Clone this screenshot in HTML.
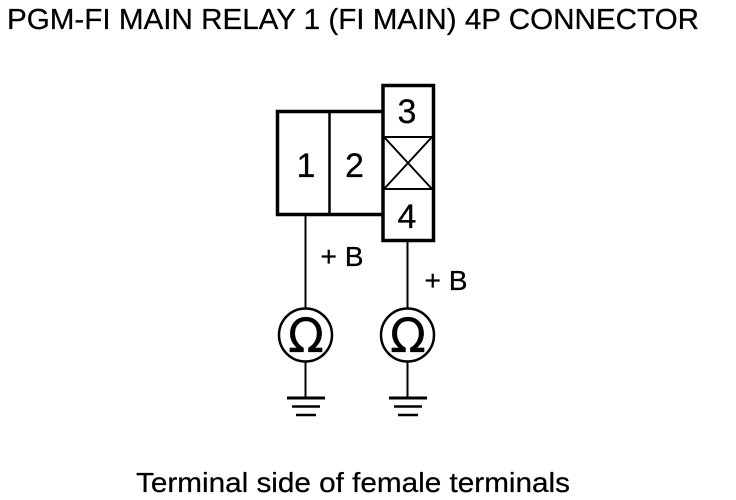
<!DOCTYPE html>
<html><head><meta charset="utf-8"><style>
html,body{margin:0;padding:0;background:#fff}
svg{display:block}
text{font-family:"Liberation Sans",sans-serif;fill:#000;stroke:#000;stroke-width:.25px}
</style></head><body>
<svg width="736" height="500" viewBox="0 0 736 500" xmlns="http://www.w3.org/2000/svg">
<rect width="736" height="500" fill="#fff"/>
<text x="7" y="29" font-size="29" textLength="692" lengthAdjust="spacingAndGlyphs">PGM-FI MAIN RELAY 1 (FI MAIN) 4P CONNECTOR</text>
<g fill="none" stroke="#000">
<path d="M382 111.5H277.5V214.5H382" stroke-width="3.5"/>
<rect x="383" y="85.5" width="50.5" height="155" stroke-width="3.5"/>
<path d="M329.5 112V214" stroke-width="2.5"/>
<path d="M384 137H432M384 189H432" stroke-width="2"/>
<path d="M384 137L432 189M432 137L384 189" stroke-width="2"/>
<path d="M305.5 216V308M407.5 242V308M305.5 362V398M407.5 362V398" stroke-width="2"/>
<circle cx="305.500" cy="335" r="26.500" stroke-width="2.500"/>
<circle cx="407.500" cy="335" r="26.500" stroke-width="2.500"/>
<path d="M287 398H325M389 398H427" stroke-width="3"/>
<path d="M292 406.500H320M394 406.500H422" stroke-width="2.500"/>
<path d="M296 415H316M398 415H418" stroke-width="2.500"/>
</g>
<g font-size="34" text-anchor="middle">
<text x="306" y="177">1</text>
<text x="354.500" y="177">2</text>
<text x="407" y="123">3</text>
<text x="407" y="228">4</text>
</g>
<g font-size="28">
<text x="320.500" y="266" textLength="43" lengthAdjust="spacingAndGlyphs">+ B</text>
<text x="424.500" y="290" textLength="43" lengthAdjust="spacingAndGlyphs">+ B</text>
</g>
<g font-size="47" text-anchor="middle">
<text x="306" y="352" style="font-family:'DejaVu Sans',sans-serif">Ω</text>
<text x="408" y="352" style="font-family:'DejaVu Sans',sans-serif">Ω</text>
</g>
<text x="136" y="492" font-size="28" textLength="434" lengthAdjust="spacingAndGlyphs">Terminal side of female terminals</text>
</svg>
</body></html>
